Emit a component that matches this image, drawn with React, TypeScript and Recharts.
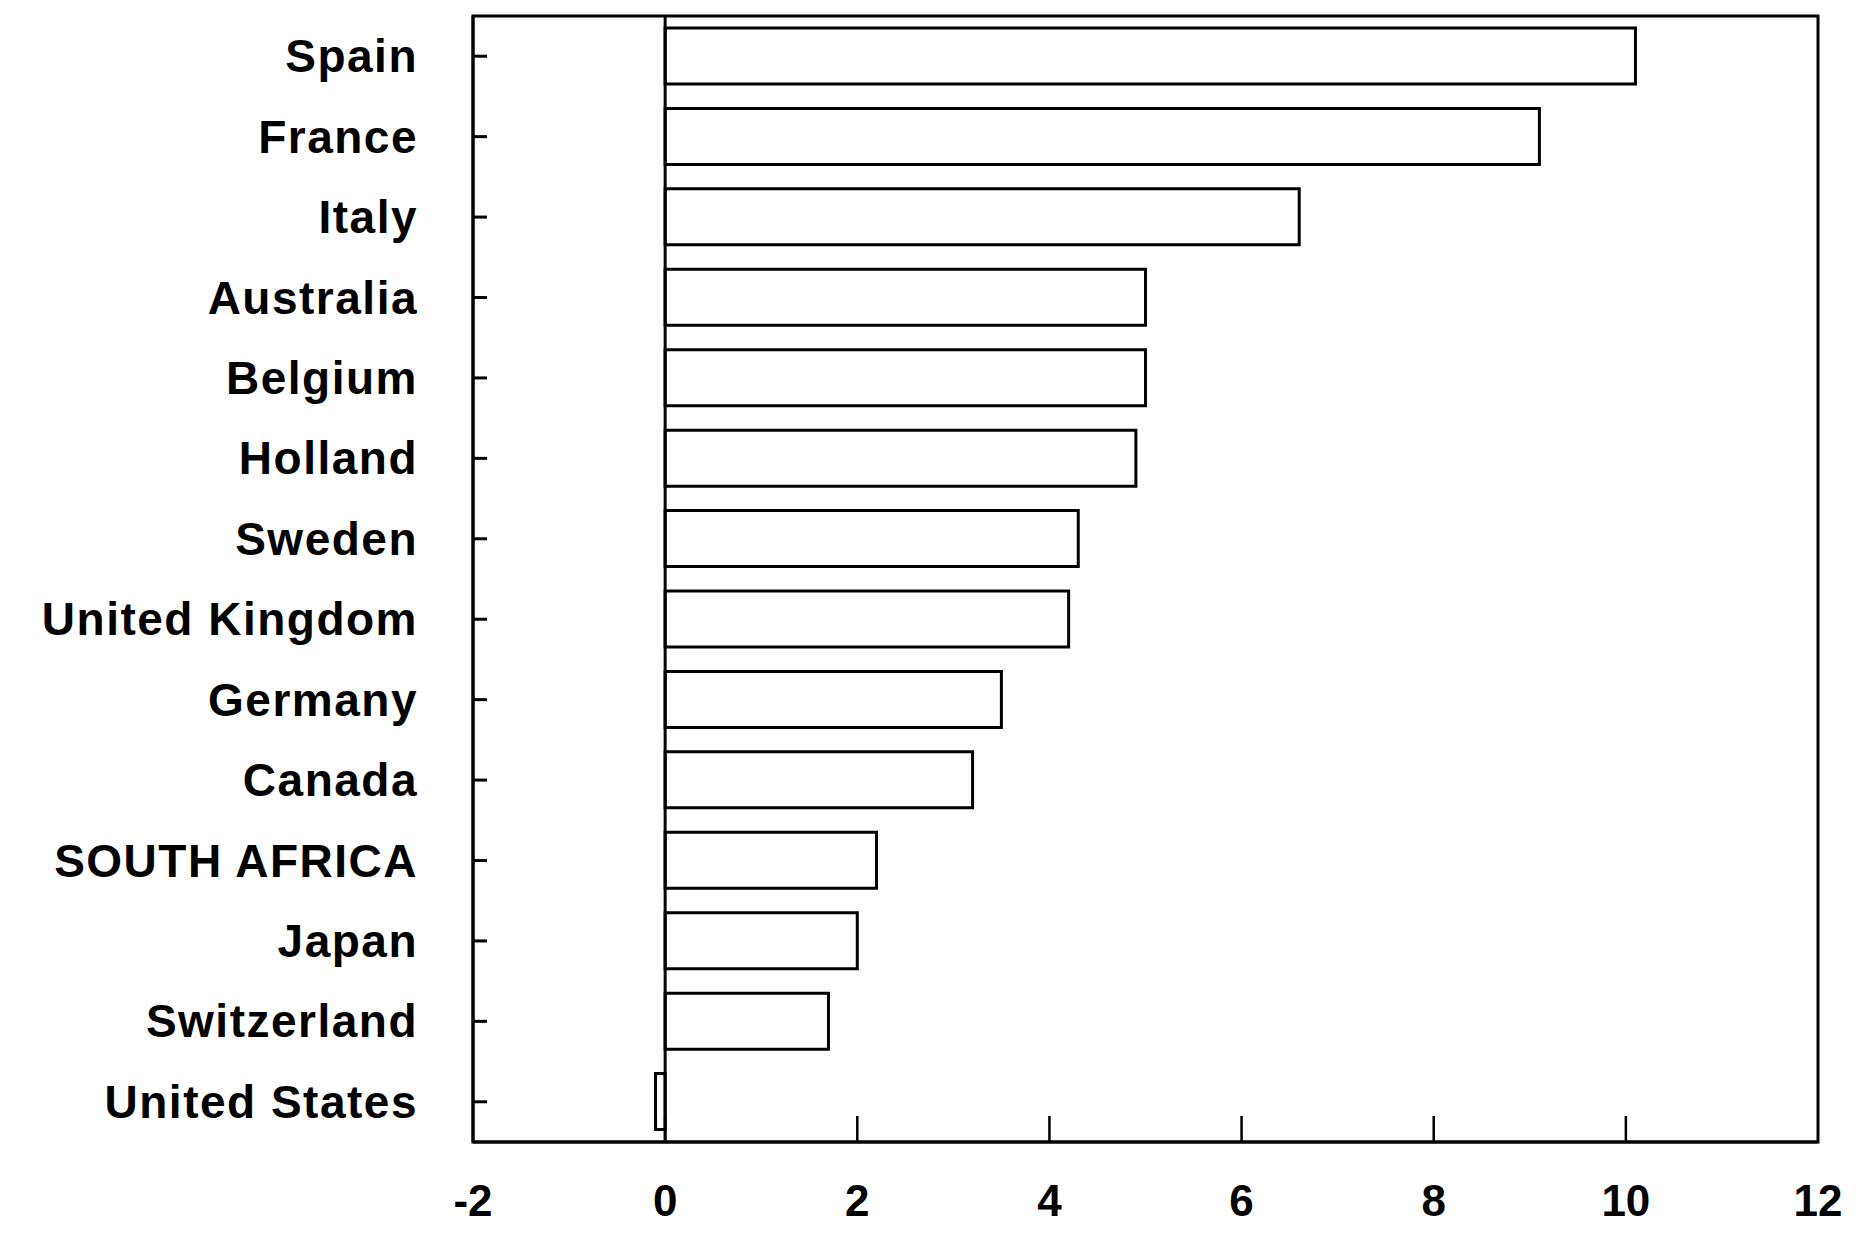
import React from "react";
import {
  BarChart,
  Bar,
  XAxis,
  YAxis,
  ReferenceLine,
  ReferenceArea,
} from "recharts";

const countries = [
  "Spain",
  "France",
  "Italy",
  "Australia",
  "Belgium",
  "Holland",
  "Sweden",
  "United Kingdom",
  "Germany",
  "Canada",
  "SOUTH AFRICA",
  "Japan",
  "Switzerland",
  "United States",
];

const values = [10.1, 9.1, 6.6, 5.0, 5.0, 4.9, 4.3, 4.2, 3.5, 3.2, 2.2, 2.0, 1.7, -0.1];

const xTicks = [-2, 0, 2, 4, 6, 8, 10, 12];

const data = countries.map((name, i) => ({ name, value: values[i] }));

const FONT = "'Liberation Sans', Arial, Helvetica, sans-serif";

function CountryTick(props: any) {
  const { x, y, payload } = props;
  return (
    <g>
      <line x1={x} y1={y} x2={x + 14} y2={y} stroke="#000" strokeWidth={3} />
      <text
        x={x - 55}
        y={y}
        textAnchor="end"
        dominantBaseline="central"
        fontFamily={FONT}
        fontWeight="bold"
        fontSize={46}
        letterSpacing={1.5}
        fill="#000"
      >
        {payload.value}
      </text>
    </g>
  );
}

function ValueTick(props: any) {
  const { x, y, payload } = props;
  const inner = payload.value > -2 && payload.value < 12;
  return (
    <g>
      {inner && (
        <line x1={x} y1={y} x2={x} y2={y - 26} stroke="#000" strokeWidth={2.5} />
      )}
      <text
        x={x}
        y={y + 58}
        textAnchor="middle"
        dominantBaseline="central"
        fontFamily={FONT}
        fontWeight="bold"
        fontSize={44}
        fill="#000"
      >
        {payload.value}
      </text>
    </g>
  );
}

export default function App() {
  return (
    <div style={{ width: 1840, height: 1227, background: "#fff" }}>
      <BarChart
        width={1840}
        height={1227}
        data={data}
        layout="vertical"
        barCategoryGap={12}
        margin={{ top: 8, right: 30, bottom: 13, left: 0 }}
      >
        <XAxis
          type="number"
          domain={[-2, 12]}
          ticks={xTicks}
          tick={<ValueTick />}
          tickLine={false}
          tickSize={0}
          tickMargin={0}
          axisLine={{ stroke: "#000", strokeWidth: 3 }}
          height={80}
          interval={0}
        />
        <YAxis
          type="category"
          dataKey="name"
          width={465}
          tick={<CountryTick />}
          tickLine={false}
          tickSize={0}
          tickMargin={0}
          axisLine={{ stroke: "#000", strokeWidth: 3 }}
          interval={0}
        />
        <ReferenceArea
          x1={-2}
          x2={12}
          fill="none"
          stroke="#000"
          strokeWidth={3}
          ifOverflow="visible"
        />
        <ReferenceLine x={0} stroke="#000" strokeWidth={3} />
        <Bar
          dataKey="value"
          fill="#fff"
          stroke="#000"
          strokeWidth={3}
          barSize={56}
          isAnimationActive={false}
        />
      </BarChart>
    </div>
  );
}
